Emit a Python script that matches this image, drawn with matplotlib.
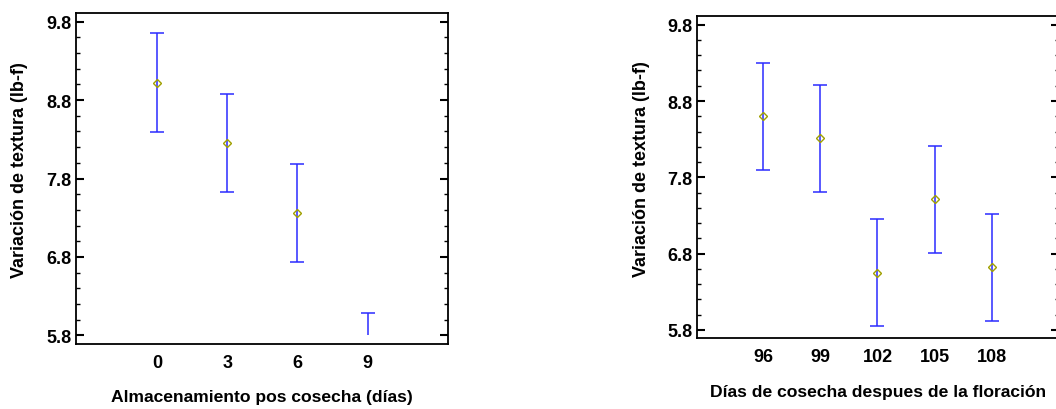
import matplotlib.pyplot as plt
from matplotlib.patches import Rectangle
from matplotlib.ticker import MultipleLocator

plt.rcParams['font.family'] = ['Liberation Sans', 'DejaVu Sans']
plt.rcParams['font.weight'] = 'bold'

# left panel: almacenamiento pos cosecha
dias_alm = [0, 3, 6, 9]
media_alm = [9.02, 8.25, 7.36, 5.46]
err_alm = [0.63, 0.625, 0.627, 0.627]

# right panel: dias de cosecha
dias_cos = [96, 99, 102, 105, 108]
media_cos = [8.60, 8.31, 6.55, 7.51, 6.62]
err_cos = [0.70, 0.70, 0.70, 0.70, 0.70]

ylab = "Variación de textura (lb-f)"
yticks = [5.8, 6.8, 7.8, 8.8, 9.8]
FS = 13

fig = plt.figure(figsize=(10.56, 4.10), dpi=100)
W, H = 1056, 410
ax1 = fig.add_axes([76 / W, 1 - 345 / H, (448 - 76) / W, (345 - 14) / H])
ax2 = fig.add_axes([697 / W, 1 - 339.3 / H, (1058.5 - 697) / W, (339.3 - 16.7) / H])


def panel(ax, x, y, e, xlim, ylim, xlabel, ylx, xly):
    ax.set_xlim(*xlim)
    ax.set_ylim(*ylim)
    eb = ax.errorbar(x, y, yerr=e, fmt='none', ecolor='#2b2bff', elinewidth=1.1,
                     capsize=5, capthick=1.1)
    pts = ax.plot(x, y, 'D', ms=4.5, mfc='none', mec='#a0a000', mew=1.0)
    # the plot clips at the last scale value
    clip = Rectangle((xlim[0], yticks[0]), xlim[1] - xlim[0], ylim[1] - yticks[0],
                     transform=ax.transData)
    for art in list(eb.lines[1]) + list(eb.lines[2]) + pts:
        art.set_clip_path(clip)
    ax.set_xticks(x)
    ax.set_xticklabels([str(v) for v in x], fontsize=FS)
    ax.set_yticks(yticks)
    ax.set_yticklabels([f"{v:.1f}" for v in yticks], fontsize=FS)
    ax.yaxis.set_minor_locator(MultipleLocator(0.2))
    ax.tick_params(axis='x', length=0, pad=7)
    ax.tick_params(axis='y', which='major', direction='in', length=6, width=1.5,
                   right=True, pad=3)
    ax.tick_params(axis='y', which='minor', direction='in', length=3, width=1,
                   right=True)
    for s in ax.spines.values():
        s.set_linewidth(1.3)
    ax.set_ylabel(ylab, fontsize=FS, fontweight='bold')
    ax.yaxis.set_label_coords(ylx, 0.528)
    ax.set_xlabel(xlabel, fontsize=12.6, fontweight='bold')
    ax.xaxis.set_label_coords(0.5, xly)


panel(ax1, dias_alm, media_alm, err_alm, (-3.46, 12.44), (5.69, 9.91),
      "Almacenamiento pos cosecha (días)", -0.129, -0.136)
panel(ax2, dias_cos, media_cos, err_cos, (92.53, 111.5), (5.69, 9.918),
      "Días de cosecha despues de la floración", -0.130, -0.142)

fig.savefig("out.png", dpi=100)
